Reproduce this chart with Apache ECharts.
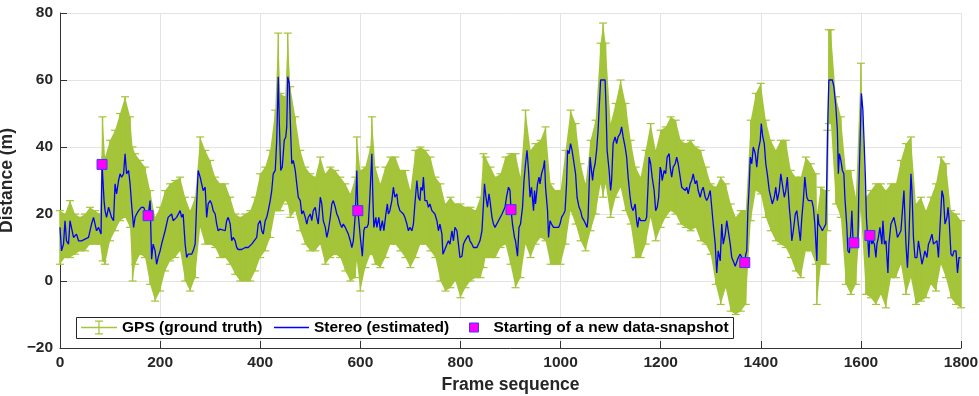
<!DOCTYPE html>
<html><head><meta charset="utf-8">
<script src="https://cdn.jsdelivr.net/npm/echarts@6/dist/echarts.min.js"></script>
<style>html,body{margin:0;padding:0;background:#fff}#c{width:979px;height:396px}</style>
</head><body><div id="c"></div>
<script>
// ---- data ----
const xTicks = [0, 200, 400, 600, 800, 1000, 1200, 1400, 1600, 1800];
const yTicks = [-20, 0, 20, 40, 60, 80];
// Stereo (estimated): [frame, distance]
const stereo = [[0,16],[3,9],[7,11],[10,18],[13,12],[17,11],[20,18],[23,18],[27,13],[33,14],[37,12],[43,12],[50,12.5],[57,13],[63,17],[67,19],[70,17],[73,15],[77,16],[82,14],[84,35],[88,24],[90,21],[93,19],[97,22],[103,19],[107,18],[110,29],[113,26],[117,30],[120,32],[123,31],[127,32],[130,38],[133,32],[137,33],[140,29],[143,23],[147,16],[150,19],[153,20],[157,21],[160,21],[163,22],[167,22],[170,21],[176,19.5],[180,24],[183,6.5],[186,11],[190,9],[193,5],[196,7],[200,9],[203,11],[210,15],[216,19],[223,20],[226,18],[233,19],[240,21],[243,19],[246,20],[250,11],[253,7],[256,8],[263,8],[266,9],[270,11],[273,23],[276,33],[280,31],[283,29],[286,27],[290,28],[293,19],[296,23],[300,24],[303,23],[306,21],[310,20],[313,17],[316,15],[320,15.5],[323,15],[330,15],[333,18],[336,19],[340,17],[343,12],[346,13],[350,12],[353,10],[356,9.4],[363,9.4],[370,10],[376,10],[383,11],[386,11.5],[393,13],[396,17],[400,18],[403,15],[406,14],[410,18],[413,19],[416,21],[420,24],[423,27],[426,32],[430,33],[433,42],[436,61],[438,48],[441,33],[444,34],[448,42],[451,43],[453,46],[455,61],[458,59],[460,48],[463,35],[466,36],[470,33],[473,29],[476,25],[480,24],[483,20],[486,21],[490,19],[493,17],[496,19],[500,20],[503,18],[506,21],[510,22],[513,19],[516,17],[520,25],[523,23],[526,18],[530,16],[533,13],[536,15],[540,19],[543,23],[546,24],[550,22],[553,20],[556,19],[560,17],[563,16],[566,17],[570,16],[573,15],[576,14],[580,12],[583,10],[586,12],[590,20],[593,33],[595,21],[597,18],[600,13],[604,7.4],[607,15],[609,16],[613,16],[616,17],[619,25],[623,38],[625,25],[627,16],[631,19],[633,16],[637,19],[640,15],[644,18],[647,15],[651,20],[654,23],[656,20],[659,21],[663,24],[666,28],[669,25],[673,26],[675,23],[679,21],[686,20],[689,19],[693,17],[696,15],[699,16],[703,15],[706,17],[709,23],[713,30],[716,25],[719,24],[721,28],[724,27],[726,31],[729,24],[733,24],[736,22],[739,23],[743,21],[746,21],[749,20],[753,18],[756,15],[759,17],[763,14],[765,8],[768,8.4],[773,11],[776,12],[779,11],[783,15],[786,12],[789,16],[793,15],[796,11],[799,7],[803,7.4],[806,11],[809,12],[813,13],[816,13.6],[819,12],[823,11],[826,10],[833,10],[836,10.4],[839,12],[843,15],[846,23],[848,29],[851,25],[854,22],[857,26],[859,24],[863,19],[866,17],[869,16],[876,18],[883,20],[889,22],[892,25],[896,28],[899,27],[901,21.3],[904,17],[908,13],[910,12],[914,7.4],[917,16],[920,17],[924,22],[927,30],[930,35],[933,39],[936,33],[939,25],[942,28],[946,21],[948,27],[950,23],[954,29],[957,31],[959,29],[962,32],[966,34],[968,36],[970,28],[974,21],[976,13],[979,18],[982,17],[986,16],[992,16],[996,16],[999,17],[1002,19],[1006,20],[1009,21],[1012,29],[1014,39],[1017,38],[1020,41],[1023,39],[1027,35],[1030,32],[1033,25],[1037,22],[1040,21],[1043,19],[1047,18],[1050,17],[1053,16],[1055,19],[1059,37],[1061,34],[1064,30],[1066,33],[1069,35],[1072,39],[1075,45],[1077,51],[1080,60],[1089,60],[1091,51],[1093,39],[1097,33],[1100,27],[1102,30],[1105,41],[1109,43],[1112,41],[1115,43],[1119,44],[1122,46],[1125,43],[1129,40],[1132,37],[1135,31],[1139,25],[1142,22],[1145,21],[1149,23],[1152,18],[1154,16],[1157,19],[1160,18],[1169,18],[1172,19],[1175,29],[1177,37],[1180,35],[1183,31],[1187,27],[1190,21],[1193,22],[1196,25],[1199,34],[1201,33],[1203,30],[1207,33],[1210,32],[1213,37],[1217,38],[1219,34],[1222,31],[1225,34],[1229,35],[1232,37],[1235,35],[1239,31],[1242,28],[1245,28],[1249,27],[1252,28],[1255,26],[1259,29],[1262,30],[1265,32],[1269,29],[1272,30],[1275,27],[1279,25],[1282,27],[1285,28],[1289,25],[1292,24],[1295,25],[1299,27],[1302,22],[1305,17],[1309,11],[1312,2.4],[1315,9],[1319,6],[1322,17],[1325,11],[1329,14],[1332,18],[1335,15],[1339,11],[1342,7],[1345,6],[1349,4.4],[1352,4],[1355,7],[1359,8],[1362,7],[1368,5.5],[1370,8],[1372,9],[1374,20],[1377,29],[1379,37],[1382,35],[1385,40],[1389,38],[1392,34],[1395,39],[1399,42],[1401,47],[1404,43],[1407,41],[1410,35],[1413,32],[1417,27],[1420,27],[1423,23],[1427,25],[1430,28],[1433,24],[1437,27],[1440,32],[1443,29],[1447,25],[1450,27],[1453,31],[1457,22],[1460,17],[1462,12],[1465,15],[1469,20],[1472,21],[1475,17],[1479,12],[1482,19],[1485,24],[1488,31],[1492,25],[1495,24],[1498,24.5],[1502,24],[1505,22],[1508,17],[1512,6],[1514,20],[1516,17],[1520,16],[1523,15],[1526,15.5],[1530,17],[1532,31],[1534,48],[1536,60],[1543,60],[1546,58],[1550,52],[1553,45],[1555,32],[1557,38],[1560,36],[1563,33],[1566,32],[1568,25],[1572,16],[1574,9],[1577,8.4],[1580,15],[1582,21],[1584,13],[1586,11.4],[1592,11],[1594,12],[1596,28],[1599,45],[1601,56],[1604,51],[1606,43],[1609,31],[1611,19],[1614,12],[1616,7],[1618,13.6],[1622,11],[1624,12],[1627,11],[1630,7],[1632,11],[1635,13],[1638,16],[1642,11],[1644,18],[1647,11],[1650,12],[1654,2.4],[1656,11],[1660,17],[1663,18],[1666,19],[1670,16],[1673,13],[1676,13],[1680,15],[1683,21],[1686,27],[1690,11],[1693,4],[1696,13],[1700,32],[1702,27],[1705,13],[1708,7],[1712,7],[1715,12],[1718,9],[1722,5],[1725,7],[1728,9],[1732,7],[1735,11],[1738,12],[1742,14],[1745,11],[1748,11],[1752,12],[1755,7],[1758,16],[1762,27],[1765,25],[1768,17],[1772,19],[1774,22],[1776,19],[1780,8],[1783,7.4],[1786,9],[1790,9],[1793,2.4],[1796,7],[1799,7]];
// GPS (ground truth) error bars: [frame, lower, upper]
const gps = [[0,5,21],[10,7,20],[20,7,24],[30,8,20],[40,9,19],[50,9,20],[60,11,22],[70,11,21],[80,11,20],[85,6,49],[90,5,37],[100,12,42],[110,15,45],[120,18,50],[130,19,55],[140,16,49],[145,0,40],[150,5,38],[160,8,36],[170,7,34],[180,-1,27],[190,-6,19],[200,-3,22],[210,3,27],[220,6,29],[230,7,30],[240,9,31],[250,0,25],[260,-3,21],[270,1,25],[280,16,43],[290,11,39],[300,11,36],[310,10,31],[320,7,29],[330,7,29],[340,5,25],[350,2,20],[360,0,19],[370,0,20],[380,0,21],[390,3,25],[400,7,32],[410,9,34],[420,13,39],[430,21,51],[436,21,74],[440,21,56],[450,24,55],[455,23,74],[460,19,58],[470,21,49],[480,15,39],[490,11,34],[500,9,32],[510,9,31],[520,11,37],[530,5,32],[540,7,34],[550,8,33],[560,7,31],[570,3,29],[580,0,26],[590,1,31],[593,6,43],[600,-3,33],[610,4,34],[620,8,40],[623,8,49],[630,5,34],[640,4,29],[650,7,34],[660,11,37],[670,11,37],[680,9,33],[690,7,33],[700,4,27],[710,7,39],[720,11,40],[730,11,39],[740,9,37],[750,7,31],[760,0,29],[770,-3,23],[780,-2,25],[790,0,23],[800,-5,23],[810,-2,22],[820,0,22],[830,1,21],[840,1,25],[846,4,38],[850,7,37],[860,7,34],[870,7,31],[880,10,32],[890,11,37],[900,5,38],[910,-2,38],[920,1,31],[930,11,51],[940,7,39],[950,11,41],[960,13,42],[970,12,46],[980,5,29],[990,5,27],[1000,5,27],[1010,11,39],[1020,21,51],[1030,17,47],[1040,12,35],[1050,9,29],[1060,15,42],[1070,20,48],[1080,29,71],[1085,25,77],[1090,29,71],[1100,19,47],[1110,25,53],[1120,28,60],[1130,21,53],[1140,17,42],[1150,7,34],[1160,7,31],[1170,11,39],[1180,19,47],[1190,12,39],[1200,16,45],[1210,19,46],[1220,21,49],[1230,20,48],[1240,17,42],[1250,16,41],[1260,15,42],[1270,16,40],[1280,12,39],[1290,11,34],[1300,8,29],[1310,-1,28],[1320,-7,31],[1330,-2,29],[1340,-9,23],[1350,-10,19],[1360,-9,21],[1370,-7,21],[1380,18,48],[1390,27,56],[1400,26,59],[1410,19,48],[1420,15,42],[1430,12,39],[1440,11,42],[1450,10,42],[1460,7,33],[1470,3,31],[1480,1,31],[1490,9,37],[1500,9,35],[1510,5,32],[1512,-7,20],[1520,5,28],[1530,5,27],[1533,15,45],[1536,47,75],[1540,47,75],[1550,23,55],[1560,19,49],[1570,-1,33],[1580,-4,33],[1590,-1,25],[1600,21,65],[1610,-4,25],[1620,-5,27],[1630,-7,29],[1640,-4,29],[1650,-8,27],[1660,1,29],[1670,1,29],[1680,5,36],[1690,-4,41],[1700,1,43],[1710,-7,23],[1720,-6,25],[1730,-5,21],[1740,-1,25],[1750,-3,29],[1760,5,37],[1770,1,35],[1780,-5,21],[1790,-7,20],[1800,-8,18]];
// Starting of a new data-snapshot: [frame, distance]
const snapshots = [[84,34.8],[176,19.5],[595,21],[901,21.3],[1368,5.5],[1586,11.4],[1618,13.6]];
const seriesNames = ['GPS (ground truth)', 'Stereo (estimated)', 'Starting of a new data-snapshot'];

// ---- styling ----
const GREEN = '#a4c43a', BLUE = '#0000ff', MAG = '#ff00ff';
const FONT = "'Liberation Sans', Arial, Helvetica, sans-serif";
const TXT = '#262626';

const chart = echarts.init(document.getElementById('c'), null, {renderer: 'canvas'});
const legendBase = {orient: 'horizontal', top: 318.5, padding: 0, itemGap: 0, selectedMode: false, z: 20,
  textStyle: {fontFamily: FONT, fontWeight: 'bold', fontSize: 15.5, color: '#000', lineHeight: 18}};
const axisCommon = {
  axisLine: {show: true, onZero: false, lineStyle: {color: '#333', width: 1}},
  axisTick: {show: true, inside: true, length: 7, lineStyle: {color: '#333'}},
  splitLine: {show: true, lineStyle: {color: '#e3e3e3', width: 1}},
  nameTextStyle: {fontFamily: FONT, fontWeight: 'bold', fontSize: 17.5, color: TXT}
};
chart.setOption({
  animation: false,
  grid: {left: 60, right: 18, top: 13, bottom: 48, containLabel: false, outerBoundsMode: 'none'},
  xAxis: Object.assign({type: 'value', min: xTicks[0], max: xTicks[xTicks.length-1], interval: 200,
    name: 'Frame sequence', nameLocation: 'middle', nameGap: 25,
    axisLabel: {fontFamily: FONT, fontWeight: 'bold', fontSize: 15.5, color: TXT, margin: 7,
      formatter: v => String(v)}}, axisCommon),
  yAxis: Object.assign({type: 'value', min: yTicks[0], max: yTicks[yTicks.length-1], interval: 20,
    name: 'Distance (m)', nameLocation: 'middle', nameGap: 33,
    axisLabel: {fontFamily: FONT, fontWeight: 'bold', fontSize: 15.5, color: TXT, margin: 7,
      formatter: v => v < 0 ? '\u2212' + Math.abs(v) : String(v)}}, axisCommon),
  graphic: [{type: 'rect', z: 15, shape: {x: 76.5, y: 317.5, width: 657, height: 21},
    style: {fill: '#fff', stroke: '#262626', lineWidth: 1}}],
  legend: [
    Object.assign({}, legendBase, {left: 81, itemWidth: 36, itemHeight: 14,
      data: [{name: seriesNames[0], icon: 'path://M0,6.35h36v1.3h-36z M17.4,0h1.2v14h-1.2z M14,0h8v1.2h-8z M14,12.8h8v1.2h-8z',
        itemStyle: {color: GREEN}}]}),
    Object.assign({}, legendBase, {left: 274, itemWidth: 35, itemHeight: 12,
      data: [{name: seriesNames[1], icon: 'path://M0,5.35h35v1.3h-35z M0,0h0.01v0.01h-0.01z M34.99,11.99h0.01v0.01h-0.01z',
        itemStyle: {color: BLUE}}]}),
    Object.assign({}, legendBase, {left: 469, itemWidth: 9, itemHeight: 9,
      textStyle: Object.assign({}, legendBase.textStyle, {padding: [0, 0, 0, 10]}),
      data: [{name: seriesNames[2], icon: 'rect', itemStyle: {color: MAG, borderColor: '#3a3aff', borderWidth: 1}}]})
  ],
  series: [
    {name: 'gpsBand', type: 'custom', z: 1, silent: true, data: [[gps[0][0], gps[0][1], gps[0][2]]],
      encode: {x: 0, y: [1, 2]},
      renderItem: function (params, api) {
        // filled envelope through the GPS bars, positioned by the axes' scales
        const pts = gps.map(d => api.coord([d[0], d[2]]))
          .concat(gps.slice().reverse().map(d => api.coord([d[0], d[1]])));
        return {type: 'polygon', shape: {points: pts}, style: {fill: GREEN}};
      }},
    {name: seriesNames[0], type: 'custom', z: 2, itemStyle: {color: GREEN},
      data: gps, encode: {x: 0, y: [1, 2]},
      renderItem: function (params, api) {
        const f = api.value(0), lo = api.value(1), hi = api.value(2);
        const pt = api.coord([f, hi]), pb = api.coord([f, lo]);
        const cap = 4;
        const st = {stroke: GREEN, lineWidth: 1.2};
        return {type: 'group', children: [
          {type: 'line', shape: {x1: pt[0], y1: pt[1], x2: pb[0], y2: pb[1]}, style: {stroke: GREEN, lineWidth: 1.5}},
          {type: 'line', shape: {x1: pt[0] - cap, y1: pt[1], x2: pt[0] + cap, y2: pt[1]}, style: st},
          {type: 'line', shape: {x1: pb[0] - cap, y1: pb[1], x2: pb[0] + cap, y2: pb[1]}, style: st}
        ]};
      }},
    {name: seriesNames[1], type: 'line', z: 3, data: stereo, symbol: 'none', showSymbol: false,
      lineStyle: {color: BLUE, width: 1.3}, itemStyle: {color: BLUE}},
    {name: seriesNames[2], type: 'scatter', z: 4, data: snapshots, symbol: 'rect', symbolSize: 10,
      itemStyle: {color: MAG, borderColor: '#3a3aff', borderWidth: 1, opacity: 1}}
  ]
});
</script></body></html>
